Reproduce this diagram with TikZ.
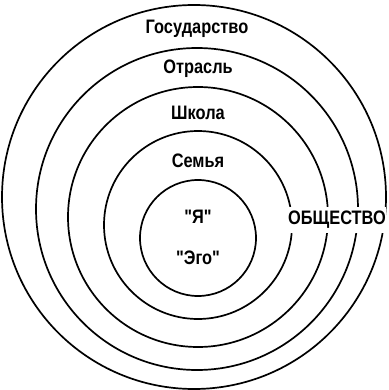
\documentclass[tikz,border=0pt]{standalone}
\usepackage{fontspec}
\newfontfamily\narrowfont[FakeStretch=0.84]{Liberation Sans}
\usepackage{tikz}
\usetikzlibrary{positioning}

\tikzset{
  ring/.style={line width=1.7pt},
  layer/.style={font=\narrowfont\bfseries\fontsize{19.5}{21}\selectfont, inner sep=1pt}
}

\begin{document}
\begin{tikzpicture}[x=1pt,y=-1pt]
  \useasboundingbox (0,0) rectangle (388,390);

  % nested circles (not concentric, they sink towards the bottom)
  \draw[ring] (198,238) circle (58);
  \draw[ring] (198,225) circle (94);
  \draw[ring] (198,217) circle (130);
  \draw[ring] (197,209) circle (161);
  \draw[ring] (194,197) circle (192);

  % layer names
  \node[layer] (state)  at (197,29)  {Государство};
  \node[layer] (branch) at (198,69)  {Отрасль};
  \node[layer] (school) at (198,113) {Школа};
  \node[layer] (family) at (198,161) {Семья};
  \node[layer] (self)   at (198,217) {"Я"};
  \node[layer] (ego)    at (198,258) {"Эго"};

  % society cuts the rings on the right
  \node[layer,fill=white,inner ysep=4pt,inner xsep=0pt] (society) at (337,220) {ОБЩЕСТВО};
\end{tikzpicture}
\end{document}
